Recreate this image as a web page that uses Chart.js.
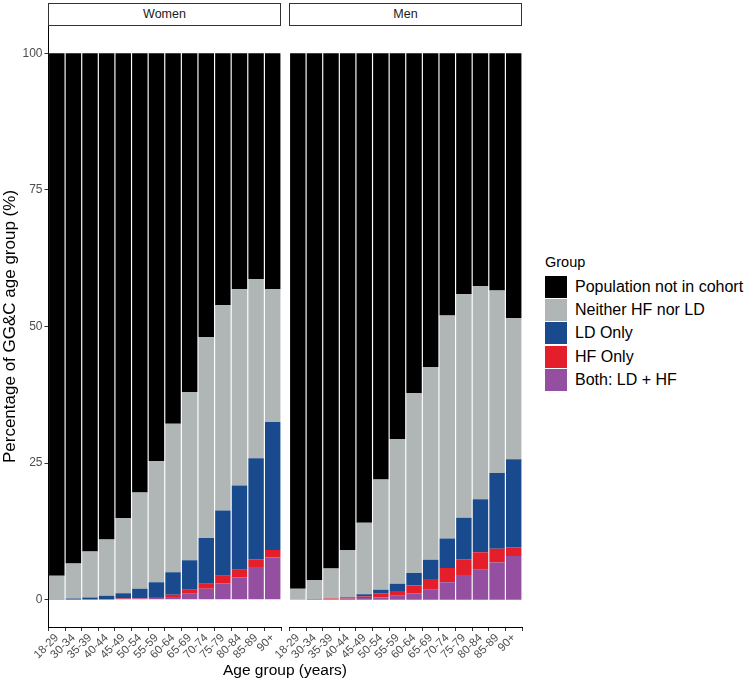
<!DOCTYPE html>
<html>
<head>
<meta charset="utf-8">
<script src="https://cdn.jsdelivr.net/npm/chart.js@4.4.1/dist/chart.umd.min.js"></script>
<style>
  body { margin: 0; background: #fff; font-family: "Liberation Sans", Arial, sans-serif; }
  #wrap { position: relative; width: 750px; height: 684px; overflow: hidden; }
  canvas { position: absolute; top: 0; }
  .strip {
    position: absolute; top: 3px; height: 23px; box-sizing: border-box;
    border: 1px solid #333; background: #fff; font-size: 12.5px; color: #1a1a1a;
    text-align: center; line-height: 21px;
  }
  #x-title { position: absolute; left: 185px; width: 200px; top: 661px; text-align: center; font-size: 15.5px; color: #000; }
  #legend { position: absolute; left: 545px; top: 254px; color: #000; }
  #legend .title { font-size: 14.5px; margin-bottom: 5px; }
  #legend .item { display: flex; align-items: center; height: 23.4px; font-size: 16px; }
  #legend .key { width: 22px; height: 22px; margin-right: 8px; }
</style>
</head>
<body>
<div id="wrap">
  <canvas id="women" width="290" height="684" style="left:0px"></canvas>
  <canvas id="men" width="280" height="684" style="left:260px"></canvas>
  <div class="strip" style="left:48px;width:233px">Women</div>
  <div class="strip" style="left:289px;width:233px">Men</div>
  <div id="x-title">Age group (years)</div>
  <div id="legend"><div class="title">Group</div></div>
</div>
<script>
// Age groups (x categories)
const ageGroups = ["18-29", "30-34", "35-39", "40-44", "45-49", "50-54", "55-59",
  "60-64", "65-69", "70-74", "75-79", "80-84", "85-89", "90+"];

// Y axis tick labels
const yTicks = [0, 25, 50, 75, 100];

// Group names and colours, bottom of the stack first
const groupNames = ["Both: LD + HF", "HF Only", "LD Only", "Neither HF nor LD", "Population not in cohort"];
const groupColors = ["#944fa0", "#e41e2b", "#1a4a8e", "#b0b5b6", "#000000"];

// Women: percentage of each age group (stack segments)
const womenBoth     = [0, 0, 0.02, 0.05, 0.1, 0.2, 0.3, 0.5, 1.1, 2.0, 3.0, 4.1, 6.0, 7.7];
const womenHfOnly   = [0, 0.02, 0.03, 0.05, 0.1, 0.1, 0.2, 0.4, 0.7, 0.9, 1.4, 1.4, 1.4, 1.4];
const womenLdOnly   = [0.05, 0.18, 0.35, 0.6, 1.0, 1.7, 2.7, 4.1, 5.4, 8.4, 11.9, 15.4, 18.5, 23.4];
const womenNeither  = [4.35, 6.4, 8.4, 10.3, 13.7, 17.6, 22.2, 27.2, 30.8, 36.8, 37.6, 35.9, 32.8, 24.3];
const womenNotInCohort = [95.6, 93.4, 91.2, 89.0, 85.1, 80.4, 74.6, 67.8, 62.0, 51.9, 46.1, 43.2, 41.3, 43.2];

// Men: percentage of each age group (stack segments)
const menBoth     = [0, 0, 0.1, 0.2, 0.3, 0.4, 0.7, 1.2, 1.8, 3.2, 4.5, 5.5, 6.8, 8.0];
const menHfOnly   = [0, 0.1, 0.1, 0.2, 0.3, 0.8, 0.9, 1.4, 2.0, 2.6, 2.9, 3.2, 2.5, 1.6];
const menLdOnly   = [0, 0, 0, 0.1, 0.4, 0.6, 1.3, 2.3, 3.5, 5.4, 7.6, 9.7, 13.9, 16.1];
const menNeither  = [2.0, 3.5, 5.5, 8.6, 13.1, 20.2, 26.5, 32.9, 35.3, 40.8, 40.9, 39.0, 33.4, 25.8];
const menNotInCohort = [98.0, 96.4, 94.3, 90.9, 85.9, 78.0, 70.6, 62.2, 57.4, 48.0, 44.1, 42.6, 43.4, 48.5];

Chart.defaults.font.family = '"Liberation Sans", Arial, sans-serif';

function buildDatasets(series) {
  return series.map((values, i) => ({
    label: groupNames[i],
    data: values,
    backgroundColor: groupColors[i],
    borderWidth: 0,
    barPercentage: 0.93,
    categoryPercentage: 1.0,
  }));
}

function renderPanel(canvasId, series, showY, padding) {
  return new Chart(document.getElementById(canvasId), {
    type: "bar",
    data: { labels: ageGroups, datasets: buildDatasets(series) },
    options: {
      responsive: false,
      animation: false,
      devicePixelRatio: 1,
      layout: { padding: padding },
      plugins: { legend: { display: false }, tooltip: { enabled: false } },
      scales: {
        x: {
          stacked: true,
          grid: { drawOnChartArea: false, drawTicks: true, tickLength: 4, color: "#333" },
          border: { display: true, color: "#000", width: 1 },
          ticks: {
            autoSkip: false, maxRotation: 45, minRotation: 45,
            color: "#4d4d4d", font: { size: 11.5 }, padding: 0,
          },
          afterFit: (scale) => { scale.height = 57; },
        },
        y: {
          display: showY,
          stacked: true,
          min: -5,
          max: 105,
          afterBuildTicks: (scale) => { scale.ticks = yTicks.map((v) => ({ value: v })); },
          grid: { drawOnChartArea: false, drawTicks: true, tickLength: 4, color: "#333" },
          border: { display: true, color: "#000", width: 1 },
          ticks: { color: "#4d4d4d", font: { size: 12 }, padding: 2 },
          title: {
            display: true,
            text: "Percentage of GG&C age group (%)",
            color: "#000",
            font: { size: 17 },
            padding: { top: 0, bottom: 0 },
          },
          // only the Women panel carries the y axis
          afterFit: (scale) => { scale.width = showY ? 48.5 : 0; },
        },
      },
    },
  });
}

renderPanel("women", [womenBoth, womenHfOnly, womenLdOnly, womenNeither, womenNotInCohort], true,
  { top: 26, left: 0, right: 9, bottom: 0 });
renderPanel("men", [menBoth, menHfOnly, menLdOnly, menNeither, menNotInCohort], false,
  { top: 26, left: 29.5, right: 18, bottom: 0 });

// Legend: top of the stack first, like the reference
const legend = document.getElementById("legend");
for (let i = groupNames.length - 1; i >= 0; i--) {
  const item = document.createElement("div");
  item.className = "item";
  item.innerHTML = '<div class="key" style="background:' + groupColors[i] + '"></div><span>' + groupNames[i] + "</span>";
  legend.appendChild(item);
}
</script>
</body>
</html>
